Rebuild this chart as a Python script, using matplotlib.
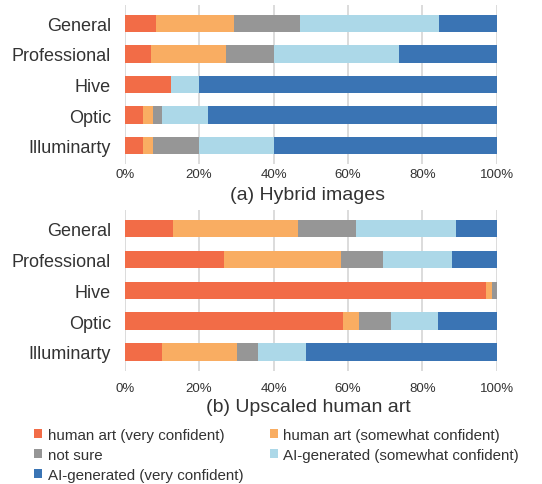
import matplotlib
matplotlib.use("Agg")
import matplotlib.pyplot as plt
from matplotlib.patches import Patch
import numpy as np

plt.rcParams['font.family'] = ['Liberation Sans', 'DejaVu Sans']

# data (percent of responses)
detectors = ["General", "Professional", "Hive", "Optic", "Illuminarty"]
series_names = [
    "human art (very confident)",
    "human art (somewhat confident)",
    "not sure",
    "AI-generated (somewhat confident)",
    "AI-generated (very confident)",
]
colors = ["#f26c47", "#f9ad62", "#969696", "#acd8e8", "#3a74b4"]

hybrid_human_very = [8.4, 7.1, 12.5, 4.9, 4.9]
hybrid_human_some = [20.9, 20.1, 0.0, 2.7, 2.7]
hybrid_not_sure = [17.8, 12.9, 0.0, 2.4, 12.4]
hybrid_ai_some = [37.4, 33.6, 7.6, 12.5, 20.0]
hybrid_ai_very = [15.5, 26.3, 79.9, 77.5, 60.0]

upscaled_human_very = [13.1, 26.7, 97.1, 58.7, 10.0]
upscaled_human_some = [33.4, 31.4, 1.6, 4.2, 20.2]
upscaled_not_sure = [15.7, 11.3, 1.3, 8.7, 5.6]
upscaled_ai_some = [26.9, 18.6, 0.0, 12.7, 12.9]
upscaled_ai_very = [10.9, 12.0, 0.0, 15.7, 51.3]

xticks = [0, 20, 40, 60, 80, 100]
xtick_labels = ["0%", "20%", "40%", "60%", "80%", "100%"]

hybrid = [hybrid_human_very, hybrid_human_some, hybrid_not_sure, hybrid_ai_some, hybrid_ai_very]
upscaled = [upscaled_human_very, upscaled_human_some, upscaled_not_sure, upscaled_ai_some, upscaled_ai_very]

fig = plt.figure(figsize=(5.42, 4.85), dpi=100)
ax1 = fig.add_axes([0.2301, 0.6598, 0.6863, 0.3278])
ax2 = fig.add_axes([0.2301, 0.234, 0.6863, 0.331])

text_color = "#333333"


def draw(ax, groups, pad):
    y = np.arange(len(detectors))
    left = np.zeros(len(detectors))
    for vals, c in zip(groups, colors):
        vals = np.array(vals)
        ax.barh(y, vals, left=left, height=0.565, color=c, linewidth=0, zorder=3)
        left += vals
    ax.set_xlim(0, 100)
    ax.set_ylim(4.6, -0.6)
    ax.set_yticks(y)
    ax.set_yticklabels(detectors, fontsize=13, color=text_color)
    ax.set_xticks(xticks)
    ax.set_xticklabels(xtick_labels, fontsize=9.5, color=text_color)
    ax.tick_params(axis="y", length=0, pad=10)
    ax.tick_params(axis="x", length=0, pad=pad)
    for s in ax.spines.values():
        s.set_visible(False)
    ax.grid(axis="x", color="#d9d9d9", linewidth=1.3, zorder=0)


draw(ax1, hybrid, 3)
draw(ax2, upscaled, 8)

fig.text(308 / 542, 1 - 196 / 485, "(a) Hybrid images", ha="center", va="center",
         fontsize=14, color=text_color)
fig.text(308 / 542, 1 - 408 / 485, "(b) Upscaled human art", ha="center", va="center",
         fontsize=14, color=text_color)

# legend: column-major order so rows read left to right
order = [0, 2, 4, 1, 3]
handles = [Patch(facecolor=colors[i], edgecolor="none") for i in order]
labels = [series_names[i] for i in order]
fig.legend(handles, labels, loc="upper left", bbox_to_anchor=(34 / 542, 1 - 429 / 485),
           ncol=2, frameon=False, fontsize=10.9, handlelength=0.55, handleheight=0.55,
           handletextpad=0.35, columnspacing=1.75, labelspacing=0.38, borderaxespad=0,
           borderpad=0, labelcolor=text_color)

fig.savefig("out.png", dpi=100)
